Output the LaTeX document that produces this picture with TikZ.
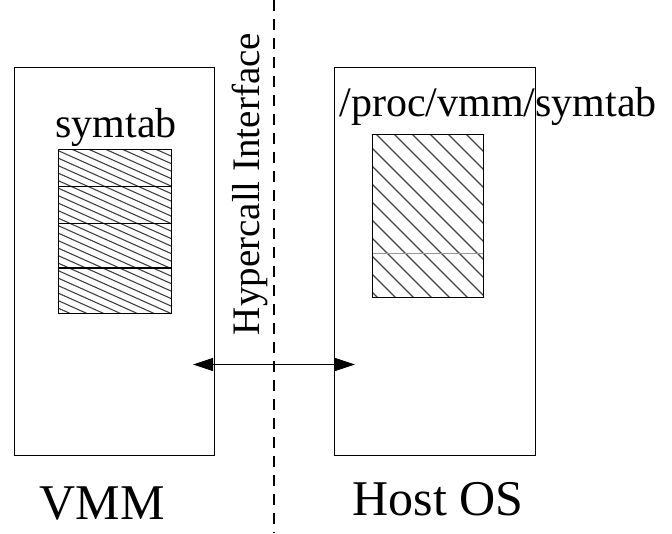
\documentclass[tikz,border=0pt]{standalone}
\usepackage{fontspec}
\setmainfont{Liberation Serif}
\usetikzlibrary{arrows.meta}
\begin{document}
\begin{tikzpicture}[x=1pt,y=-1pt,
  box/.style={draw,line width=0.9pt,rectangle,inner sep=0pt},
  cell/.style={draw,line width=0.9pt,rectangle,inner sep=0pt},
  hatchline/.style={line width=1.1pt,draw=black!75},
  lbl/.style={font=\fontsize{42}{46}\selectfont,anchor=base,inner sep=0pt},
  biglbl/.style={font=\fontsize{50}{54}\selectfont,anchor=base,inner sep=0pt},
  iface/.style={dashed,line width=1.6pt,dash pattern=on 11pt off 8pt},
  link/.style={line width=0.9pt,{Triangle[length=20pt,width=13pt]}-{Triangle[length=20pt,width=13pt]}}]
\useasboundingbox (0,0) rectangle (672,533);

% the two address spaces
\node[box,minimum width=200pt,minimum height=388pt] (vmm) at (114,261) {};
\node[box,minimum width=201pt,minimum height=388pt] (host) at (434.5,261) {};

% hypercall interface divider
\coordinate (itop) at (274,0);
\coordinate (ibot) at (274,533);
\draw[iface] (itop) -- (ibot);
\node[font=\fontsize{39}{42}\selectfont,rotate=90,inner sep=0pt] (ilbl) at (250,184) {Hypercall Interface};

% symbol table in the VMM: four hatched entries
\begin{scope}
  \clip (58,149.5) rectangle (171,313);
  \foreach \k in {-60,-52.5,...,330}
    \draw[hatchline] (40,\k) -- (190,\k+67);
\end{scope}
\node[cell,minimum width=113pt,minimum height=37pt] (s1) at (114.5,168) {};
\node[cell,minimum width=113pt,minimum height=37pt] (s2) at (114.5,205) {};
\node[cell,minimum width=113pt,minimum height=44.5pt] (s3) at (114.5,245.5) {};
\node[cell,minimum width=113pt,minimum height=45pt] (s4) at (114.5,290.5) {};

% exported copy in the host
\begin{scope}
  \clip (372,134) rectangle (483,297);
  \foreach \k in {200,218,...,500}
    \draw[hatchline] (\k,120) -- (\k+200,320);
\end{scope}
\draw[black!40,line width=0.8pt] (372,253) -- (483,253);
\node[cell,minimum width=111pt,minimum height=163pt] (p) at (427.5,215.5) {};

% labels
\node[lbl] (t1) at (116,137) {symtab};
\node[lbl] (t2) at (498,116) {/proc/vmm/symtab};
\node[biglbl] (t3) at (102,519) {VMM};
\node[biglbl] (t4) at (438,515) {Host OS};

% hypercall link between the two sides
\coordinate (a1) at (193,364.5);
\coordinate (a2) at (355,364.5);
\draw[link] (a1) -- (a2);
\end{tikzpicture}
\end{document}
